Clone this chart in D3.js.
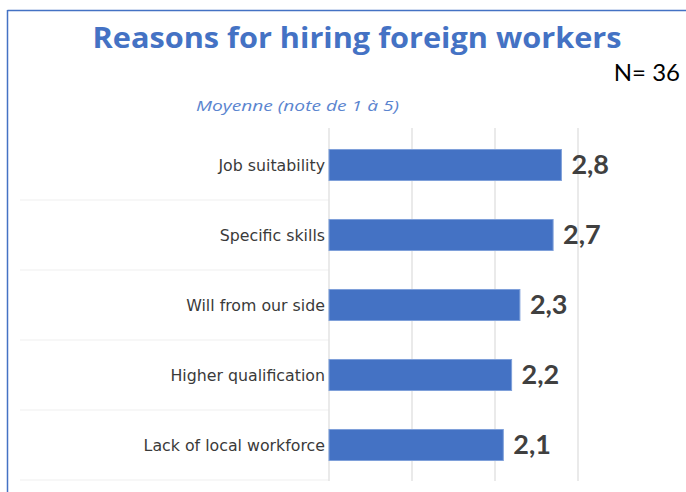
<!DOCTYPE html>
<html>
<head>
<meta charset="utf-8">
<script src="https://cdn.jsdelivr.net/npm/d3@7"></script>
<style>
  html, body { margin: 0; padding: 0; background: #ffffff; }
  svg { display: block; }
</style>
</head>
<body>
<svg id="chart" width="686" height="492"></svg>
<script>
// Average scores (scale 1 to 5) per reason
const categories = [
  "Job suitability",
  "Specific skills",
  "Will from our side",
  "Higher qualification",
  "Lack of local workforce"
];
const values = [2.8, 2.7, 2.3, 2.2, 2.1];
const valueLabels = ["2,8", "2,7", "2,3", "2,2", "2,1"];
const gridTicks = [0, 1, 2, 3];

const svg = d3.select("#chart");
const blue = "#4472C4";

// Frame lines on the top and left
svg.append("line").attr("x1", 7.5).attr("x2", 686).attr("y1", 10.5).attr("y2", 10.5)
  .attr("stroke", blue).attr("stroke-width", 1.5);
svg.append("line").attr("x1", 7.5).attr("x2", 7.5).attr("y1", 10).attr("y2", 492)
  .attr("stroke", blue).attr("stroke-width", 1.5);

// Title and annotations
svg.append("text")
  .attr("x", 357).attr("y", 48)
  .attr("text-anchor", "middle")
  .attr("font-family", "'Open Sans', sans-serif")
  .attr("font-weight", 700)
  .attr("font-size", 28)
  .attr("fill", blue)
  .attr("textLength", 529)
  .attr("lengthAdjust", "spacingAndGlyphs")
  .text("Reasons for hiring foreign workers");

svg.append("text")
  .attr("x", 680).attr("y", 81)
  .attr("text-anchor", "end")
  .attr("font-family", "Lato, sans-serif")
  .attr("font-size", 24)
  .attr("fill", "#000000")
  .text("N= 36");

svg.append("text")
  .attr("x", 196).attr("y", 111)
  .attr("font-family", "'Open Sans', sans-serif")
  .attr("font-style", "italic")
  .attr("font-size", 14.5)
  .attr("fill", "#5b85cf")
  .attr("textLength", 203)
  .attr("lengthAdjust", "spacingAndGlyphs")
  .text("Moyenne (note de 1 à 5)");

// Scales
const x = d3.scaleLinear().domain([0, 4]).range([329, 329 + 4 * 83]);
const y = d3.scaleBand().domain(categories).range([130, 480])
  .paddingInner(0.557).paddingOuter(0.2785);

// Faint row separators on the label side
const step = y.step();
const seps = d3.range(1, categories.length + 1).map(i => 130 + i * step);
svg.append("g").selectAll("line").data(seps).join("line")
  .attr("x1", 20).attr("x2", x(0))
  .attr("y1", d => d).attr("y2", d => d)
  .attr("stroke", "#f5f5f5").attr("stroke-width", 1.5);

// Vertical gridlines
svg.append("g").selectAll("line").data(gridTicks).join("line")
  .attr("x1", d => x(d)).attr("x2", d => x(d))
  .attr("y1", 128).attr("y2", 481)
  .attr("stroke", "#e3e3e3").attr("stroke-width", 1.5);

// Bars
svg.append("g").selectAll("rect").data(values).join("rect")
  .attr("x", x(0))
  .attr("y", (d, i) => y(categories[i]))
  .attr("width", d => x(d) - x(0))
  .attr("height", y.bandwidth())
  .attr("fill", blue)
  .attr("stroke", "#7fa0da")
  .attr("stroke-width", 1);

// Category labels
svg.append("g").selectAll("text").data(categories).join("text")
  .attr("x", x(0) - 4)
  .attr("y", d => y(d) + y.bandwidth() / 2)
  .attr("dy", "0.4em")
  .attr("text-anchor", "end")
  .attr("font-family", "'DejaVu Sans', sans-serif")
  .attr("font-size", 15.8)
  .attr("fill", "#3a3a3a")
  .text(d => d);

// Value labels
svg.append("g").selectAll("text").data(values).join("text")
  .attr("x", d => x(d) + 10)
  .attr("y", (d, i) => y(categories[i]) + y.bandwidth() / 2)
  .attr("dy", "0.35em")
  .attr("font-family", "Lato, sans-serif")
  .attr("font-weight", 700)
  .attr("font-size", 27)
  .attr("fill", "#404040")
  .text((d, i) => valueLabels[i]);
</script>
</body>
</html>
